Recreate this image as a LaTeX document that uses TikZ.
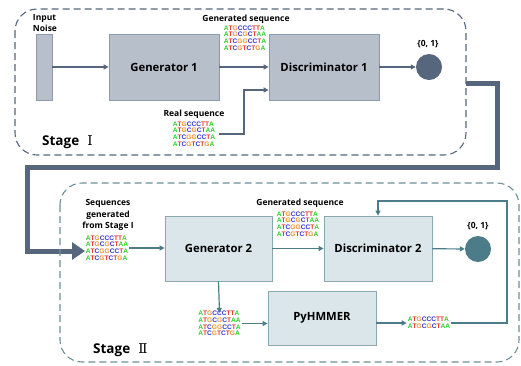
\documentclass[tikz,border=0pt]{standalone}
\usepackage{fontspec}
\setmainfont{Open Sans}
\newfontfamily\seqfont{Liberation Sans}
\newfontfamily\numfont{DejaVu Serif}
\usetikzlibrary{arrows.meta}

\definecolor{oneline}{HTML}{56677D}
\definecolor{onefill}{HTML}{B7BFCB}
\definecolor{oneedge}{HTML}{8F9AA8}
\definecolor{twoline}{HTML}{4B7C87}
\definecolor{twofill}{HTML}{DAE6EA}
\definecolor{twoedge}{HTML}{8AA8B0}
\definecolor{twodash}{HTML}{6C8F98}
\definecolor{ntA}{HTML}{2ED12E}
\definecolor{ntT}{HTML}{E8332A}
\definecolor{ntG}{HTML}{F0902A}
\definecolor{ntC}{HTML}{3434D6}

% colour each nucleotide letter of a sequence
\newcommand\dna[1]{\dnaloop#1\relax}
\def\dnaloop#1{\ifx#1\relax\else\dnachar#1\expandafter\dnaloop\fi}
\def\dnachar#1{\if#1A\textcolor{ntA}{A}\else\if#1T\textcolor{ntT}{T}\else\if#1G\textcolor{ntG}{G}\else\textcolor{ntC}{C}\fi\fi\fi}

\begin{document}
\begin{tikzpicture}[x=1pt,y=-1pt,
  stageone/.style={draw=oneline, dash pattern=on 7pt off 4pt, line width=1.1pt, rounded corners=22pt},
  stagetwo/.style={draw=twodash, dash pattern=on 7pt off 4pt, line width=1.1pt, rounded corners=22pt},
  boxone/.style={draw=oneedge, fill=onefill, line width=0.8pt, font=\bfseries\fontsize{11.3}{13}\selectfont},
  boxtwo/.style={draw=twoedge, fill=twofill, line width=0.8pt, font=\bfseries\fontsize{11.3}{13}\selectfont},
  arrone/.style={draw=oneline, line width=1.2pt, -{Triangle[length=5pt,width=5pt]}},
  arrtwo/.style={draw=twoline, line width=1.2pt, -{Triangle[length=5pt,width=5pt]}},
  seqblock/.style={font=\seqfont\bfseries\fontsize{6.6}{6.7}\selectfont, align=left, inner sep=0pt},
  lbl/.style={font=\bfseries\fontsize{8.5}{11.8}\selectfont, inner sep=0pt, align=center},
  stagelbl/.style={font=\bfseries\fontsize{13.5}{15}\selectfont, inner sep=0pt, anchor=west},
  outone/.style={circle, fill=oneline, minimum size=26pt, inner sep=0pt},
  outtwo/.style={circle, fill=twoline, minimum size=26pt, inner sep=0pt},
]
\useasboundingbox (0,0) rectangle (521,365);

% ---------- Stage I ----------
\draw[stageone] (15,9) rectangle (466,155);
\node[draw=oneedge, fill=onefill, line width=0.8pt, minimum width=16pt, minimum height=66pt, inner sep=0pt] (noise) at (44,67) {};
\node[lbl, align=left] (noiselbl) at (45,23) {Input\\Noise};
\node[boxone, minimum width=110pt, minimum height=66pt] (gen1) at (164,67) {Generator 1};
\node[boxone, minimum width=110pt, minimum height=66pt] (dis1) at (324,67) {Discriminator 1};
\node[outone] (out1) at (429,67) {};
\node[lbl] (out1lbl) at (428,44) {\{0, 1\}};
\node[lbl] (gen1lbl) at (246,19) {Generated sequence};
\node[seqblock] (gen1seq) at (245,38) {\dna{ATGCCCTTA}\\\dna{ATGCGCTAA}\\\dna{ATCGGCCTA}\\\dna{ATCGTCTGA}};
\node[lbl] (reallbl) at (194,114) {Real sequence};
\node[seqblock] (realseq) at (194,134) {\dna{ATGCCCTTA}\\\dna{ATGCGCTAA}\\\dna{ATCGGCCTA}\\\dna{ATCGTCTGA}};
\node[stagelbl] (st1) at (42,142) {Stage\hspace{0.6em}{\numfont\mdseries Ⅰ}};

\draw[arrone] (noise) -- (gen1);
\draw[arrone] (gen1) -- (dis1);
\draw[arrone] (dis1) -- (out1);
\coordinate (realin) at (dis1.west |- 0,90);
\draw[arrone] ([xshift=4pt]realseq.east) -| (244,90) -- (realin);

% ---------- hand-over from Stage I to Stage II ----------
\coordinate (handoff) at (85,251);
\draw[draw=oneline, line width=5pt, line join=miter,
      -{Triangle[length=13pt,width=17pt]}]
  (466,83) -- (497,83) -- (497,167) -- (27,167) -- (27,251) -- (handoff);

% ---------- Stage II ----------
\draw[stagetwo] (60,183) rectangle (519,362);
\node[lbl] (fromlbl) at (108,215) {Sequences\\generated\\from Stage I};
\node[seqblock] (fromseq) at (107,248) {\dna{ATGCCCTTA}\\\dna{ATGCGCTAA}\\\dna{ATCGGCCTA}\\\dna{ATCGTCTGA}};
\node[boxtwo, minimum width=107pt, minimum height=65pt] (gen2) at (218.5,248.5) {Generator 2};
\node[boxtwo, minimum width=108pt, minimum height=65pt] (dis2) at (378,248.5) {Discriminator 2};
\node[outtwo] (out2) at (478,249) {};
\node[lbl] (out2lbl) at (478,226) {\{0, 1\}};
\node[lbl] (gen2lbl) at (300,203) {Generated sequence};
\node[seqblock] (gen2seq) at (298,224) {\dna{ATGCCCTTA}\\\dna{ATGCGCTAA}\\\dna{ATCGGCCTA}\\\dna{ATCGTCTGA}};
\node[seqblock] (candseq) at (219.5,323.5) {\dna{ATGCCCTTA}\\\dna{ATGCGCTAA}\\\dna{ATCGGCCTA}\\\dna{ATCGTCTGA}};
\node[boxtwo, minimum width=108pt, minimum height=54pt] (hmm) at (322,318) {PyHMMER};
\node[seqblock] (hitseq) at (429,323) {\dna{ATGCCCTTA}\\\dna{ATGCGCTAA}};
\node[stagelbl] (st2) at (93,350) {Stage\hspace{0.6em}{\numfont\mdseries Ⅱ}};

\draw[arrtwo] ([xshift=1pt]fromseq.east) -- (gen2.west |- fromseq.east);
\draw[arrtwo] (gen2) -- (dis2);
\draw[arrtwo] (dis2) -- (out2);
\draw[arrtwo] (gen2.south) -- ([yshift=-2pt]candseq.north);
\draw[arrtwo] ([xshift=1pt]candseq.east) -- (hmm.west |- candseq.east);
\draw[arrtwo] (hmm.east |- hitseq.west) -- ([xshift=-1pt]hitseq.west);
\draw[arrtwo] ([xshift=1pt]hitseq.east) -- (507,323) -- (507,201) -| (dis2.north);
\end{tikzpicture}
\end{document}
